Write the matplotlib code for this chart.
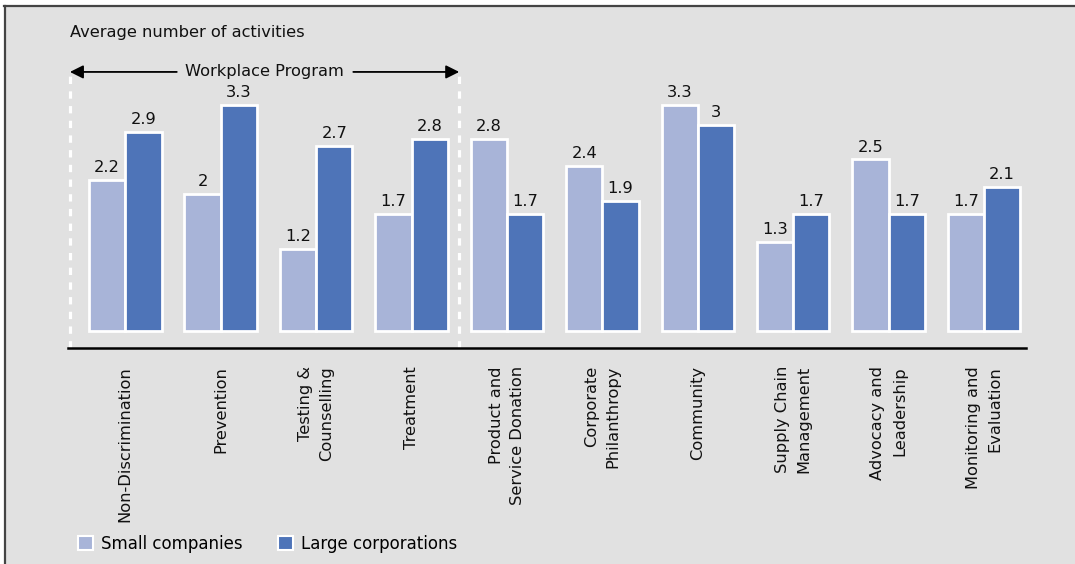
import matplotlib
matplotlib.use("Agg")
import matplotlib.pyplot as plt
from matplotlib.patches import Rectangle, Patch
from matplotlib.lines import Line2D
import numpy as np

categories = ["Non-Discrimination", "Prevention", "Testing &\nCounselling", "Treatment",
              "Product and\nService Donation", "Corporate\nPhilanthropy", "Community",
              "Supply Chain\nManagement", "Advocacy and\nLeadership", "Monitoring and\nEvaluation"]
small = [2.2, 2, 1.2, 1.7, 2.8, 2.4, 3.3, 1.3, 2.5, 1.7]
large = [2.9, 3.3, 2.7, 2.8, 1.7, 1.9, 3, 1.7, 1.7, 2.1]
series_names = ["Small companies", "Large corporations"]
title = "Average number of activities"
group_label = "Workplace Program"

c_small = "#a8b4d8"
c_large = "#4e74b8"
bg = "#e1e1e1"

plt.rcParams['font.family'] = ['DejaVu Sans']
FS = 11.7

W, H = 1075, 564
fig = plt.figure(figsize=(W / 100, H / 100), dpi=100, facecolor="white")

# background panel with left/top border
fig.patches.append(Rectangle((5 / W, 0), 1 - 5 / W, 1 - 7 / H, transform=fig.transFigure,
                             facecolor=bg, edgecolor="none", zorder=-10))
fig.lines.append(Line2D([5 / W, 5 / W], [0, 1 - 6 / H], transform=fig.transFigure,
                        color="#444444", lw=1.6, zorder=-5))
fig.lines.append(Line2D([4 / W, 1], [1 - 6 / H, 1 - 6 / H], transform=fig.transFigure,
                        color="#444444", lw=1.6, zorder=-5))

ax_left, ax_right = 68, 1026
ax_top, ax_bot = 60, 348
ax = fig.add_axes([ax_left / W, (H - ax_bot) / H, (ax_right - ax_left) / W, (ax_bot - ax_top) / H])
ax.set_facecolor("none")

x = np.arange(len(categories))
w = 0.38
ax.bar(x - w / 2, small, w, color=c_small, edgecolor="white", linewidth=2, zorder=3)
ax.bar(x + w / 2, large, w, color=c_large, edgecolor="white", linewidth=2, zorder=3)

for xi, s, l in zip(x, small, large):
    ax.text(xi - w / 2, s + 0.07, f"{s:g}", ha="center", va="bottom", fontsize=FS, color="#111111")
    ax.text(xi + w / 2, l + 0.07, f"{l:g}", ha="center", va="bottom", fontsize=FS, color="#111111")

ax.set_xlim(-0.6, 9.44)
ax.set_ylim(-0.25, 3.95)

for s in ["top", "right", "left"]:
    ax.spines[s].set_visible(False)
ax.spines["bottom"].set_color("black")
ax.spines["bottom"].set_linewidth(1.8)
ax.set_yticks([])
ax.set_xticks(x)
ax.set_xticklabels(categories, rotation=90, ha="center", va="top", multialignment="right",
                   fontsize=FS, color="#111111", linespacing=1.55)
ax.tick_params(axis="x", length=0, pad=13)

# workplace program bracket
yarr = 3.776
xl, xr = -0.58, 3.5
for xv in (xl, xr):
    ax.plot([xv, xv], [-0.25, yarr], color="white", lw=2.3, linestyle=(0, (2.3, 2.3)),
            zorder=2, clip_on=False)
xm = 1.46
ax.annotate("", xy=(xl, yarr), xytext=(xm - 0.92, yarr),
            arrowprops=dict(arrowstyle="-|>", color="black", lw=1.3, mutation_scale=20,
                            shrinkA=0, shrinkB=0))
ax.annotate("", xy=(xr, yarr), xytext=(xm + 0.93, yarr),
            arrowprops=dict(arrowstyle="-|>", color="black", lw=1.3, mutation_scale=20,
                            shrinkA=0, shrinkB=0))
ax.text(xm, yarr, group_label, ha="center", va="center", fontsize=FS, color="#111111")

fig.text(70 / W, 1 - 33 / H, title, ha="left", va="center", fontsize=FS, color="#111111")

handles = [Patch(facecolor=c_small, edgecolor="white", linewidth=1.5),
           Patch(facecolor=c_large, edgecolor="white", linewidth=1.5)]
fig.legend(handles, series_names, loc="center left", bbox_to_anchor=(78 / W, 1 - 544 / H),
           ncol=2, frameon=False, fontsize=12, handlelength=0.9, handleheight=0.9,
           handletextpad=0.5, columnspacing=2.1, borderaxespad=0, borderpad=0)

fig.savefig("out.png", dpi=100, facecolor="white")
